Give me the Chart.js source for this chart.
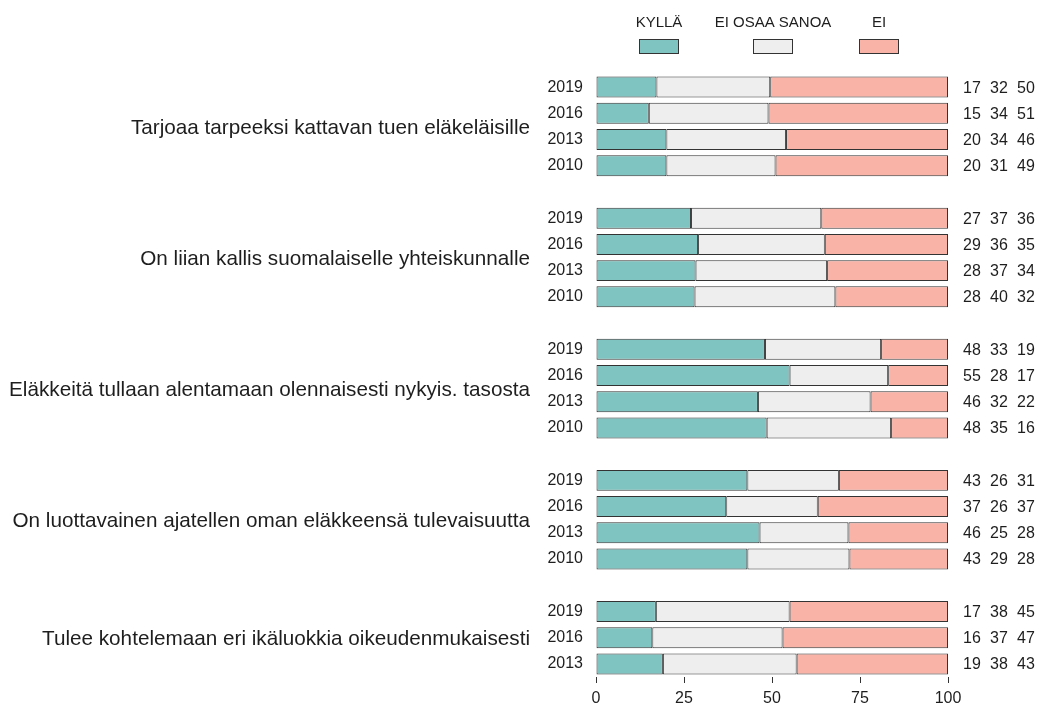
<!DOCTYPE html>
<html>
<head>
<meta charset="utf-8">
<script src="https://cdn.jsdelivr.net/npm/chart.js@4"></script>
<style>
  html, body { margin: 0; padding: 0; background: #fff; }
  #wrap { width: 1040px; height: 704px; }
</style>
</head>
<body>
<div id="wrap"><canvas id="chart" width="1040" height="704"></canvas></div>
<script>
// ---- data ----
const seriesNames = ['KYLLÄ', 'EI OSAA SANOA', 'EI'];
const seriesColors = ['#80c4c1', '#eeeeee', '#f9b3a7'];

const groupNames = [
    'Tarjoaa tarpeeksi kattavan tuen eläkeläisille',
    'On liian kallis suomalaiselle yhteiskunnalle',
    'Eläkkeitä tullaan alentamaan olennaisesti nykyis. tasosta',
    'On luottavainen ajatellen oman eläkkeensä tulevaisuutta',
    'Tulee kohtelemaan eri ikäluokkia oikeudenmukaisesti',
];
const groupYears = [
    ['2019', '2016', '2013', '2010'],
    ['2019', '2016', '2013', '2010'],
    ['2019', '2016', '2013', '2010'],
    ['2019', '2016', '2013', '2010'],
    ['2019', '2016', '2013'],
];
const kylla = [[17, 15, 20, 20], [27, 29, 28, 28], [48, 55, 46, 48], [43, 37, 46, 43], [17, 16, 19]];
const eos   = [[32, 34, 34, 31], [37, 36, 37, 40], [33, 28, 32, 35], [26, 26, 25, 29], [38, 37, 38]];
const ei    = [[50, 51, 46, 49], [36, 35, 34, 32], [19, 17, 22, 16], [31, 37, 28, 28], [45, 47, 43]];

const xTicks = [0, 25, 50, 75, 100];

// ---- flatten into rows, with an empty row between groups ----
const rowLabels = [];
const rowValues = [];   // [k, e, i] or null
const groupRows = [];   // first/last row index of each group
groupNames.forEach((g, gi) => {
    if (gi > 0) { rowLabels.push(''); rowValues.push(null); }
    const first = rowLabels.length;
    groupYears[gi].forEach((y, j) => {
        rowLabels.push(y);
        rowValues.push([kylla[gi][j], eos[gi][j], ei[gi][j]]);
    });
    groupRows.push([first, rowLabels.length - 1]);
});

// bars are shown as shares of 100
const shares = s => rowValues.map(v => v ? v[s] / (v[0] + v[1] + v[2]) * 100 : null);

const FONT = '"Liberation Sans", Arial, sans-serif';
const TEXT = '#1e1e1e';

const sideLabels = {
    id: 'sideLabels',
    afterDatasetsDraw(chart) {
        const { ctx, chartArea, scales } = chart;
        ctx.save();
        ctx.fillStyle = TEXT;
        ctx.textBaseline = 'middle';

        // values on the right
        ctx.font = '16px ' + FONT;
        ctx.textAlign = 'left';
        rowValues.forEach((v, i) => {
            if (!v) return;
            const y = scales.y.getPixelForValue(i);
            v.forEach((n, k) => ctx.fillText(String(n), chartArea.right + 15 + k * 27, y + 1));
        });

        // statement labels
        ctx.font = '20.7px ' + FONT;
        ctx.textAlign = 'right';
        groupRows.forEach(([a, b], gi) => {
            const y = (scales.y.getPixelForValue(a) + scales.y.getPixelForValue(b)) / 2;
            ctx.fillText(groupNames[gi], 530, y + 2);
        });

        // legend
        const centers = [659, 773, 879];
        ctx.font = '15px ' + FONT;
        ctx.textAlign = 'center';
        seriesNames.forEach((n, k) => {
            ctx.fillStyle = TEXT;
            ctx.fillText(n, centers[k], 23);
            ctx.fillStyle = seriesColors[k];
            ctx.fillRect(centers[k] - 20, 39, 40, 15);
            ctx.strokeStyle = '#333';
            ctx.lineWidth = 1;
            ctx.strokeRect(centers[k] - 19.5, 39.5, 39, 14);
        });
        ctx.restore();
    },
};

new Chart(document.getElementById('chart'), {
    type: 'bar',
    data: {
        labels: rowLabels,
        datasets: seriesNames.map((name, s) => ({
            label: name,
            data: shares(s),
            backgroundColor: seriesColors[s],
            borderColor: '#333',
            borderWidth: 1,
            borderSkipped: false,
            barPercentage: 0.8,
            categoryPercentage: 1,
        })),
    },
    options: {
        indexAxis: 'y',
        responsive: false,
        animation: false,
        layout: { padding: { top: 74, right: 92, bottom: 0, left: 0 } },
        plugins: {
            legend: { display: false },
            tooltip: { enabled: false },
        },
        scales: {
            x: {
                stacked: true,
                min: 0,
                max: 100,
                afterBuildTicks: scale => { scale.ticks = xTicks.map(v => ({ value: v })); },
                afterFit: scale => { scale.height = 27; },
                border: { display: false },
                grid: { drawOnChartArea: false, drawTicks: true, tickLength: 6, color: '#333' },
                ticks: { color: TEXT, font: { family: FONT, size: 16 }, padding: 6, maxRotation: 0 },
            },
            y: {
                stacked: true,
                afterFit: scale => { scale.width = 596; },
                border: { display: false },
                grid: { display: false, drawTicks: false },
                ticks: { color: TEXT, font: { family: FONT, size: 16 }, padding: 13, autoSkip: false },
            },
        },
    },
    plugins: [sideLabels],
});
</script>
</body>
</html>
